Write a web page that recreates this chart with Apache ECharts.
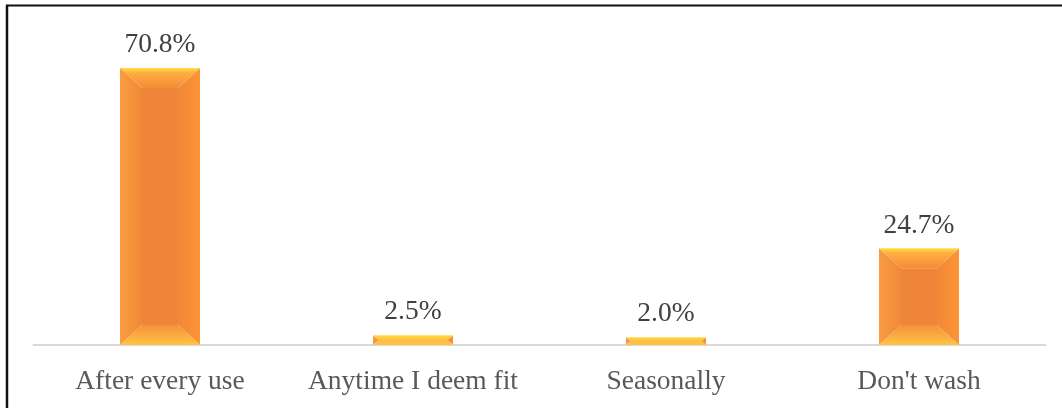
<!DOCTYPE html>
<html>
<head>
<meta charset="utf-8">
<script src="https://cdn.jsdelivr.net/npm/echarts@6/dist/echarts.min.js"></script>
<style>
  html, body { margin: 0; padding: 0; background: #fff; }
  #chart { width: 1062px; height: 408px; }
</style>
</head>
<body>
<div id="chart"></div>
<script>
// Washing frequency responses (percent of respondents)
const categories = ['After every use', 'Anytime I deem fit', 'Seasonally', "Don't wash"];
const shares = [70.8, 2.5, 2.0, 24.7];

const FONT = '"Liberation Serif", "Times New Roman", serif';
const BAR_W = 80;

function lin(x1, y1, x2, y2, stops) {
  return new echarts.graphic.LinearGradient(x1, y1, x2, y2,
    stops.map(s => ({ offset: s[0], color: s[1] })));
}

// Beveled bar: flat centre face surrounded by four sloped edges
function renderBevelBar(params, api) {
  const idx = api.value(0);
  const v = api.value(1);
  const top = api.coord([idx, v]);
  const base = api.coord([idx, 0]);
  const cx = top[0];
  const x0 = cx - BAR_W / 2, x1 = cx + BAR_W / 2;
  const y0 = top[1], y1 = base[1];
  const h = y1 - y0;
  const b = Math.min(20, h / 2);
  const bx = Math.min(b * 1.1, BAR_W / 2);
  const thin = h < 30;

  const children = [
    { type: 'rect', shape: { x: x0 + bx, y: y0 + b, width: BAR_W - 2 * bx, height: Math.max(0, h - 2 * b) },
      style: { fill: '#EE8538' } },
    { type: 'polygon', shape: { points: [[x0, y0], [x0 + bx, y0 + b], [x0 + bx, y1 - b], [x0, y1]] },
      style: { fill: lin(0, 0, 1, 0, [[0, '#FA9C42'], [1, '#F08938']]) } },
    { type: 'polygon', shape: { points: [[x1, y0], [x1, y1], [x1 - bx, y1 - b], [x1 - bx, y0 + b]] },
      style: { fill: lin(0, 0, 1, 0, [[0, '#EF8838'], [1, '#FF9434']]) } },
    { type: 'polygon', shape: { points: [[x0, y0], [x1, y0], [x1 - bx, y0 + b], [x0 + bx, y0 + b]] },
      style: { fill: thin
        ? lin(0, 0, 0, 1, [[0, '#FFDC42'], [1, '#FFBE44']])
        : lin(0, 0, 0, 1, [[0, '#FFDC42'], [0.25, '#FDAE40'], [1, '#F58B37']]) } },
    { type: 'polygon', shape: { points: [[x0 + bx, y1 - b], [x1 - bx, y1 - b], [x1, y1], [x0, y1]] },
      style: { fill: thin
        ? lin(0, 0, 0, 1, [[0, '#FFBE44'], [1, '#FFC446']])
        : lin(0, 0, 0, 1, [[0, '#F59038'], [1, '#FFC446']]) } },
    { type: 'text', style: {
        text: v.toFixed(1) + '%', x: cx, y: y0 - 9,
        align: 'center', verticalAlign: 'bottom',
        font: '27.5px ' + FONT, fill: '#404040' } }
  ];
  return { type: 'group', children: children };
}

const chart = echarts.init(document.getElementById('chart'), null, { renderer: 'canvas' });
chart.setOption({
  animation: false,
  backgroundColor: '#ffffff',
  grid: { left: 33.5, right: 16.5, top: 32, bottom: 63 },
  xAxis: {
    type: 'category',
    data: categories,
    boundaryGap: true,
    axisLine: { show: true, lineStyle: { color: '#D9D9D9', width: 2 } },
    axisTick: { show: false },
    axisLabel: { color: '#595959', fontSize: 27.5, fontFamily: FONT, margin: 23, interval: 0 }
  },
  yAxis: {
    type: 'value', min: 0, max: 80,
    show: false, splitLine: { show: false }
  },
  series: [{
    type: 'custom',
    data: shares.map((v, i) => [i, v]),
    encode: { x: 0, y: 1 },
    renderItem: renderBevelBar,
    clip: false
  }],
  graphic: [
    { type: 'line', shape: { x1: 7, y1: 5, x2: 7, y2: 408 }, style: { stroke: '#111', lineWidth: 2.5 } },
    { type: 'line', shape: { x1: 6, y1: 5.5, x2: 1062, y2: 5.5 }, style: { stroke: '#111', lineWidth: 2 } }
  ]
});
</script>
</body>
</html>
